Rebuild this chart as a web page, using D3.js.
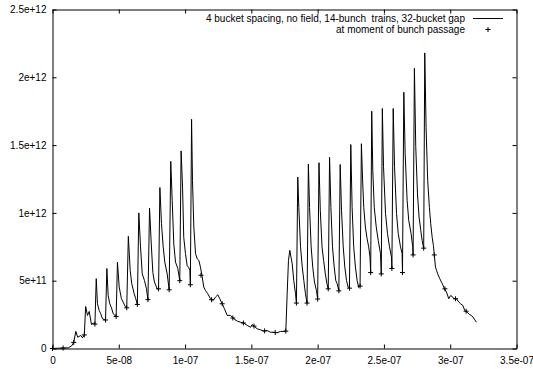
<!DOCTYPE html>
<html>
<head>
<meta charset="utf-8">
<script src="https://cdnjs.cloudflare.com/ajax/libs/d3/7.8.5/d3.min.js"></script>
<style>
  body { margin: 0; background: #fff; }
  svg text { font-family: "Liberation Sans", Arial, Helvetica, sans-serif; font-size: 10px; fill: #000; }
</style>
</head>
<body>
<svg width="533" height="369"></svg>
<script>

// time in ns, density in units of 1e11
var cloud = [
  [0,0],[4,0.02],[8,0.03],[12,0.05],[14.5,0.2],[16,0.45],[17.6,1.26],[19,0.83],[21.3,0.96],[22.6,0.79],[24,1.0],
  [25,3.1],[26.4,2.44],[27.7,2.73],[29.4,1.77],[30.7,1.87],[32,1.8],
  [33,5.15],[33.9,3.3],[35.2,2.8],[36.4,2.56],[37.7,2.19],[40,2.1],
  [41,5.9],[42,3.9],[43.2,3.3],[44.5,3.0],[45.8,2.56],[48,2.36],
  [49,6.37],[50.3,4.53],[52,3.67],[53.3,3.42],[54.8,3.1],[56,3.0],
  [57.2,8.27],[58.6,5.76],[59.8,4.78],[61.6,4.04],[62.8,3.67],[64,3.25],
  [65.1,10.0],[66.4,7.5],[67.7,5.5],[69.4,5.0],[70.9,4.4],[72,3.6],
  [73.2,10.36],[74.5,7.7],[75.7,5.6],[76.9,4.9],[79,4.4],[80,4.4],
  [81,11.87],[82.2,9.2],[83.5,7.5],[84.7,6.37],[86.5,5.5],[88,4.33],
  [89.2,13.8],[90.3,10.9],[91.5,7.7],[92.8,6.37],[94.5,5.9],[96,5.0],
  [97,14.57],[98.1,11.9],[99,8.2],[100.3,7.0],[101.6,6.1],[102.6,6.0],[103.6,5.76],[104,4.7],
  [104.9,16.9],[105.6,12.4],[106.6,8.96],[107.9,7.0],[109.2,6.6],[110.4,6.5],[111.6,6.0],[112.9,5.3],
  [114.1,4.53],[115.4,4.28],[117.1,4.04],[119.2,3.67],[121.2,3.55],[123,3.8],[124.7,3.96],[126.2,3.67],
  [128,3.3],[129.7,2.93],[131.8,2.44],[134.3,2.44],[136.8,2.19],[139.3,2.02],[141.8,1.94],[144.3,1.87],
  [146.9,1.7],[149.4,1.57],[150.6,1.77],[152.4,1.62],[154.4,1.45],[156.9,1.38],[159.4,1.28],[161.9,1.33],
  [164.4,1.2],[166.9,1.2],[169.5,1.16],[172,1.26],[174.5,1.26],[176,1.28],
  [177,4.0],[178,6.5],[179,7.24],[180.8,6.25],[182,5.0],[183.3,4.04],[184,3.35],
  [185,12.65],[185.8,10.4],[187.1,7.5],[188.4,6.0],[189.6,5.0],[190.8,4.04],[192,3.35],
  [193,13.6],[193.9,10.4],[195.1,7.5],[196.3,6.0],[197.6,4.9],[199.1,4.28],[200,3.65],
  [201,13.7],[202,10.2],[203.3,7.5],[204.5,6.5],[205.8,5.5],[207,4.78],[208,4.4],
  [209,14.1],[210,10.4],[211.2,7.5],[212.5,6.0],[213.7,5.0],[214.7,4.78],[216,4.25],
  [217,13.57],[218,10.2],[219.3,7.5],[220.5,6.0],[221.8,5.0],[223,4.53],[224,4.45],
  [225,15.04],[226,10.4],[227.2,7.5],[228.5,6.0],[229.8,5.0],[231,4.5],[232,4.6],
  [233,15.1],[234,12.2],[234.8,10.4],[236,8.96],[237.3,8.1],[238.5,7.5],[239.5,6.74],[240,5.6],
  [240.8,17.5],[241.6,13.1],[242.7,10.4],[244.2,8.96],[245.7,7.98],[247.4,7.0],[248,5.5],
  [248.8,17.7],[249.7,13.4],[251.2,9.95],[252.7,8.47],[254.2,7.5],[255.7,6.74],[256,5.9],
  [257,17.7],[258,13.4],[259.5,9.95],[260.8,8.47],[262.5,7.5],[263.7,7.0],[264,5.6],
  [265,18.9],[266,14.4],[267.5,10.9],[268.7,9.45],[270.5,8.47],[271.7,7.5],[272,6.9],
  [273,20.66],[274,14.9],[275.3,11.4],[276.5,9.7],[277.8,8.7],[278.8,7.98],[280,7.4],
  [280.8,21.8],[281.8,16.3],[283,12.4],[284.3,10.4],[285.3,9.2],[286.4,8.2],[287.3,7.6],[288,6.9],
  [288.9,6.0],[289.7,5.76],[290.6,5.5],[292.1,5.15],[294,4.78],[295.7,4.4],[297.2,4.16],[298.9,3.67],
  [300.2,3.9],[301.5,3.84],[302.7,3.67],[304.7,3.67],[306.5,3.42],[307.8,3.3],[309.5,3.18],[311,2.8],
  [312.8,2.68],[314.5,2.51],[315.8,2.44],[317.3,2.31],[318.5,2.12],[319.8,1.94]
];

// moments of bunch passage (ns) and density there (1e11)
var bunchT = [0,8,16,24,32,40,48,56,64,72,80,88,96,104,112,120,128,136,144,152,160,168,
              176,184,192,200,208,216,224,232,240,248,256,264,272,280,288,296,304,312];
var bunchN = [0,0.03,0.45,1.0,1.8,2.1,2.36,3.0,3.25,3.6,4.4,4.33,5.0,4.7,5.4,3.6,3.3,2.25,1.88,1.65,1.3,1.18,
              1.28,3.35,3.35,3.65,4.4,4.25,4.45,4.6,5.6,5.5,5.9,5.6,6.9,7.4,6.9,4.4,3.67,2.75];

var xTicks = [0, 5e-8, 1e-7, 1.5e-7, 2e-7, 2.5e-7, 3e-7, 3.5e-7];
var xTickLabels = ["0", "5e-08", "1e-07", "1.5e-07", "2e-07", "2.5e-07", "3e-07", "3.5e-07"];
var yTicks = [0, 5e11, 1e12, 1.5e12, 2e12, 2.5e12];
var yTickLabels = ["0", "5e+11", "1e+12", "1.5e+12", "2e+12", "2.5e+12"];

var legendLabels = ["4 bucket spacing, no field, 14-bunch  trains, 32-bucket gap", "at moment of bunch passage"];

var svg = d3.select("svg");
var plotLeft = 52.5, plotRight = 516.5, plotTop = 9.5, plotBottom = 348.5;

var x = d3.scaleLinear().domain([0, 3.5e-7]).range([plotLeft, plotRight]);
var y = d3.scaleLinear().domain([0, 2.5e12]).range([plotBottom, plotTop]);

// frame with inward ticks on all four sides
svg.append("g")
  .attr("transform", "translate(0," + plotBottom + ")")
  .call(d3.axisBottom(x).tickValues(xTicks).tickSizeInner(-4).tickSizeOuter(0).tickPadding(8)
    .tickFormat(function (d, i) { return xTickLabels[i]; }));

svg.append("g")
  .attr("transform", "translate(0," + plotTop + ")")
  .call(d3.axisTop(x).tickValues(xTicks).tickSizeInner(-4).tickSizeOuter(0).tickFormat(""));

svg.append("g")
  .attr("transform", "translate(" + plotLeft + ",0)")
  .call(d3.axisLeft(y).tickValues(yTicks).tickSizeInner(-4).tickSizeOuter(0).tickPadding(6)
    .tickFormat(function (d, i) { return yTickLabels[i]; }));

svg.append("g")
  .attr("transform", "translate(" + plotRight + ",0)")
  .call(d3.axisRight(y).tickValues(yTicks).tickSizeInner(-4).tickSizeOuter(0).tickFormat(""));

svg.selectAll(".domain, .tick line").attr("stroke", "#000");
svg.selectAll(".tick text").attr("font-size", null).attr("font-family", null);

var line = d3.line()
  .x(function (d) { return x(d[0] * 1e-9); })
  .y(function (d) { return y(d[1] * 1e11); });

svg.append("path")
  .datum(cloud)
  .attr("d", line)
  .attr("fill", "none")
  .attr("stroke", "#000")
  .attr("stroke-width", 1)
  .attr("stroke-linejoin", "round");

var plus = "M-2.5,0H2.5M0,-2.5V2.5";

svg.append("g")
  .selectAll("path")
  .data(bunchT)
  .enter().append("path")
  .attr("d", plus)
  .attr("transform", function (d, i) {
    return "translate(" + x(d * 1e-9) + "," + y(bunchN[i] * 1e11) + ")";
  })
  .attr("stroke", "#000")
  .attr("fill", "none");

// legend
var legend = svg.append("g");
legend.selectAll("text")
  .data(legendLabels)
  .enter().append("text")
  .attr("x", 465)
  .attr("y", function (d, i) { return 21.5 + i * 11; })
  .attr("text-anchor", "end")
  .style("white-space", "pre")
  .text(function (d) { return d; });

legend.append("line")
  .attr("x1", 473).attr("x2", 503)
  .attr("y1", 18.5).attr("y2", 18.5)
  .attr("stroke", "#000");

legend.append("path")
  .attr("d", plus)
  .attr("transform", "translate(488,29.5)")
  .attr("stroke", "#000")
  .attr("fill", "none");

</script>
</body>
</html>
